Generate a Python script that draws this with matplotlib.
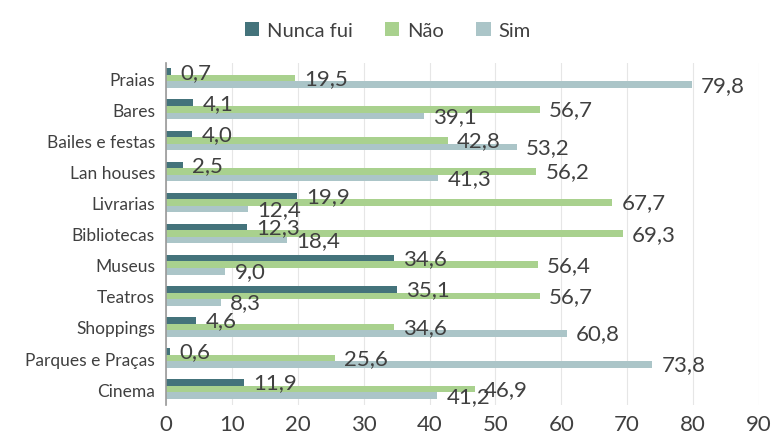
import numpy as np
import matplotlib.pyplot as plt

plt.rcParams['font.family'] = ['Lato', 'DejaVu Sans']

categories = ['Praias', 'Bares', 'Bailes e festas', 'Lan houses', 'Livrarias',
              'Bibliotecas', 'Museus', 'Teatros', 'Shoppings',
              'Parques e Praças', 'Cinema']
nunca_fui = [0.7, 4.1, 4.0, 2.5, 19.9, 12.3, 34.6, 35.1, 4.6, 0.6, 11.9]
nao = [19.5, 56.7, 42.8, 56.2, 67.7, 69.3, 56.4, 56.7, 34.6, 25.6, 46.9]
sim = [79.8, 39.1, 53.2, 41.3, 12.4, 18.4, 9.0, 8.3, 60.8, 73.8, 41.2]

series = [('Nunca fui', nunca_fui, '#44737b'),
          ('Não', nao, '#a9d18e'),
          ('Sim', sim, '#abc5c8')]

fig = plt.figure(figsize=(7.76, 4.39), dpi=100)
ax = fig.add_axes([0.214, 0.076, 0.764, 0.779])

y = np.arange(len(categories))
h = 0.21
for i, (name, vals, color) in enumerate(series):
    pos = y + (i - 1) * h
    ax.barh(pos, vals, height=h, color=color, label=name, zorder=2)
    for p, v in zip(pos, vals):
        ax.text(v + 1.4, p, f'{v:.1f}'.replace('.', ','), va='center',
                ha='left', fontsize=16, color='#404040', zorder=3)

ax.set_ylim(len(categories) - 0.5, -0.5)
ax.set_xlim(0, 90)
ax.set_xticks(range(0, 91, 10))
ax.set_yticks(y)
ax.set_yticklabels(categories, fontsize=12.5, color='#404040')
ax.tick_params(axis='x', labelsize=16, colors='#404040', length=0, pad=7)
ax.tick_params(axis='y', length=0, pad=8)
ax.grid(axis='x', color='#e6e6e6', linewidth=0.8, zorder=0)
for s in ['top', 'right', 'bottom']:
    ax.spines[s].set_visible(False)
ax.spines['left'].set_color('#999999')
ax.spines['left'].set_linewidth(1.2)

fig.legend(loc='upper center', bbox_to_anchor=(0.5, 0.99), ncol=3,
           frameon=False, fontsize=14.5, handlelength=0.7, handleheight=0.7,
           columnspacing=1.6, handletextpad=0.4, labelcolor='#404040')

fig.savefig('out.png', dpi=100)
